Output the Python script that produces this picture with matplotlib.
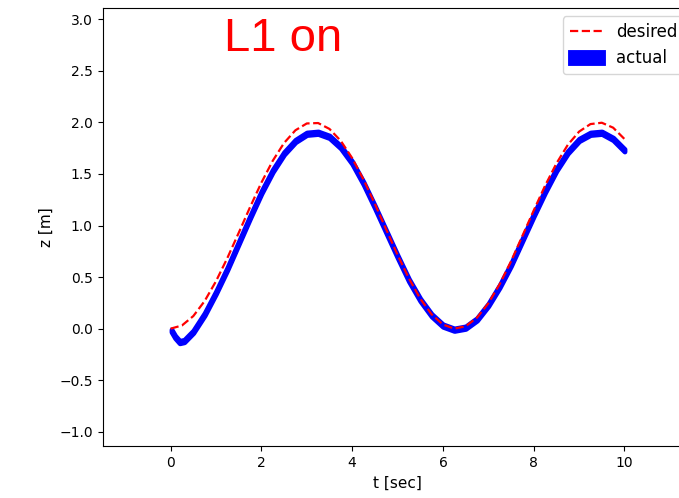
import numpy as np
import matplotlib
matplotlib.use('Agg')
import matplotlib.pyplot as plt

# desired trajectory
t_des = [0.0, 0.25, 0.5, 0.75, 1.0, 1.25, 1.5, 1.75, 2.0, 2.25, 2.5, 2.75, 3.0,
         3.25, 3.5, 3.75, 4.0, 4.25, 4.5, 4.75, 5.0, 5.25, 5.5, 5.75, 6.0,
         6.25, 6.5, 6.75, 7.0, 7.25, 7.5, 7.75, 8.0, 8.25, 8.5, 8.75, 9.0,
         9.25, 9.5, 9.75, 10.0]
z_des = [0.000, 0.031, 0.122, 0.268, 0.460, 0.685, 0.929, 1.178, 1.416, 1.628,
         1.801, 1.924, 1.990, 1.994, 1.937, 1.821, 1.654, 1.446, 1.211, 0.962,
         0.716, 0.488, 0.291, 0.139, 0.040, 0.000, 0.023, 0.107, 0.246, 0.432,
         0.653, 0.899, 1.146, 1.386, 1.602, 1.782, 1.911, 1.984, 1.997, 1.949,
         1.839]

# actual trajectory (blue band)
t_act = [0.02, 0.1, 0.2, 0.3, 0.5, 0.75, 1.0, 1.25, 1.5, 1.75, 2.0, 2.25, 2.5,
         2.75, 3.0, 3.25, 3.5, 3.75, 4.0, 4.25, 4.5, 4.75, 5.0, 5.25, 5.5,
         5.75, 6.0, 6.25, 6.5, 6.75, 7.0, 7.25, 7.5, 7.75, 8.0, 8.25, 8.5,
         8.75, 9.0, 9.25, 9.5, 9.75, 10.0]
z_act = [-0.02, -0.08, -0.13, -0.12, -0.03, 0.14, 0.35, 0.58, 0.83, 1.08,
         1.32, 1.53, 1.70, 1.82, 1.89, 1.90, 1.86, 1.76, 1.61, 1.41, 1.18,
         0.94, 0.70, 0.47, 0.28, 0.13, 0.03, -0.01, 0.01, 0.09, 0.23, 0.41,
         0.62, 0.86, 1.10, 1.33, 1.54, 1.71, 1.83, 1.89, 1.90, 1.84, 1.73]
z_spread = 0.012

fig = plt.figure(figsize=(6.79, 4.98), dpi=100)
ax = fig.add_axes([0.151, 0.104, 0.869, 0.880])

z_act = np.array(z_act)
ax.fill_between(t_act, z_act - z_spread, z_act + z_spread, color='blue',
                lw=3.5, label='actual')
ax.plot(t_des, z_des, 'r--', lw=1.6, label='desired')

ax.set_xlim(-1.5, 11.5)
ax.set_ylim(-1.14, 3.11)
ax.set_xticks([0, 2, 4, 6, 8, 10])
ax.set_yticks(np.arange(-1.0, 3.01, 0.5))
ax.set_xlabel('t [sec]', fontsize=11)
ax.set_ylabel('z [m]', fontsize=11)
# the original screenshot is cropped before the right edge of the axes
ax.spines['right'].set_visible(False)

handles, labels = ax.get_legend_handles_labels()
ax.legend(handles[::-1], labels[::-1], loc='upper right', fontsize=12)

fig.text(224 / 679, 1 - 51 / 498, 'L1 on', color='red', fontsize=34,
         family='Liberation Sans', va='baseline')

fig.savefig('out.png')
